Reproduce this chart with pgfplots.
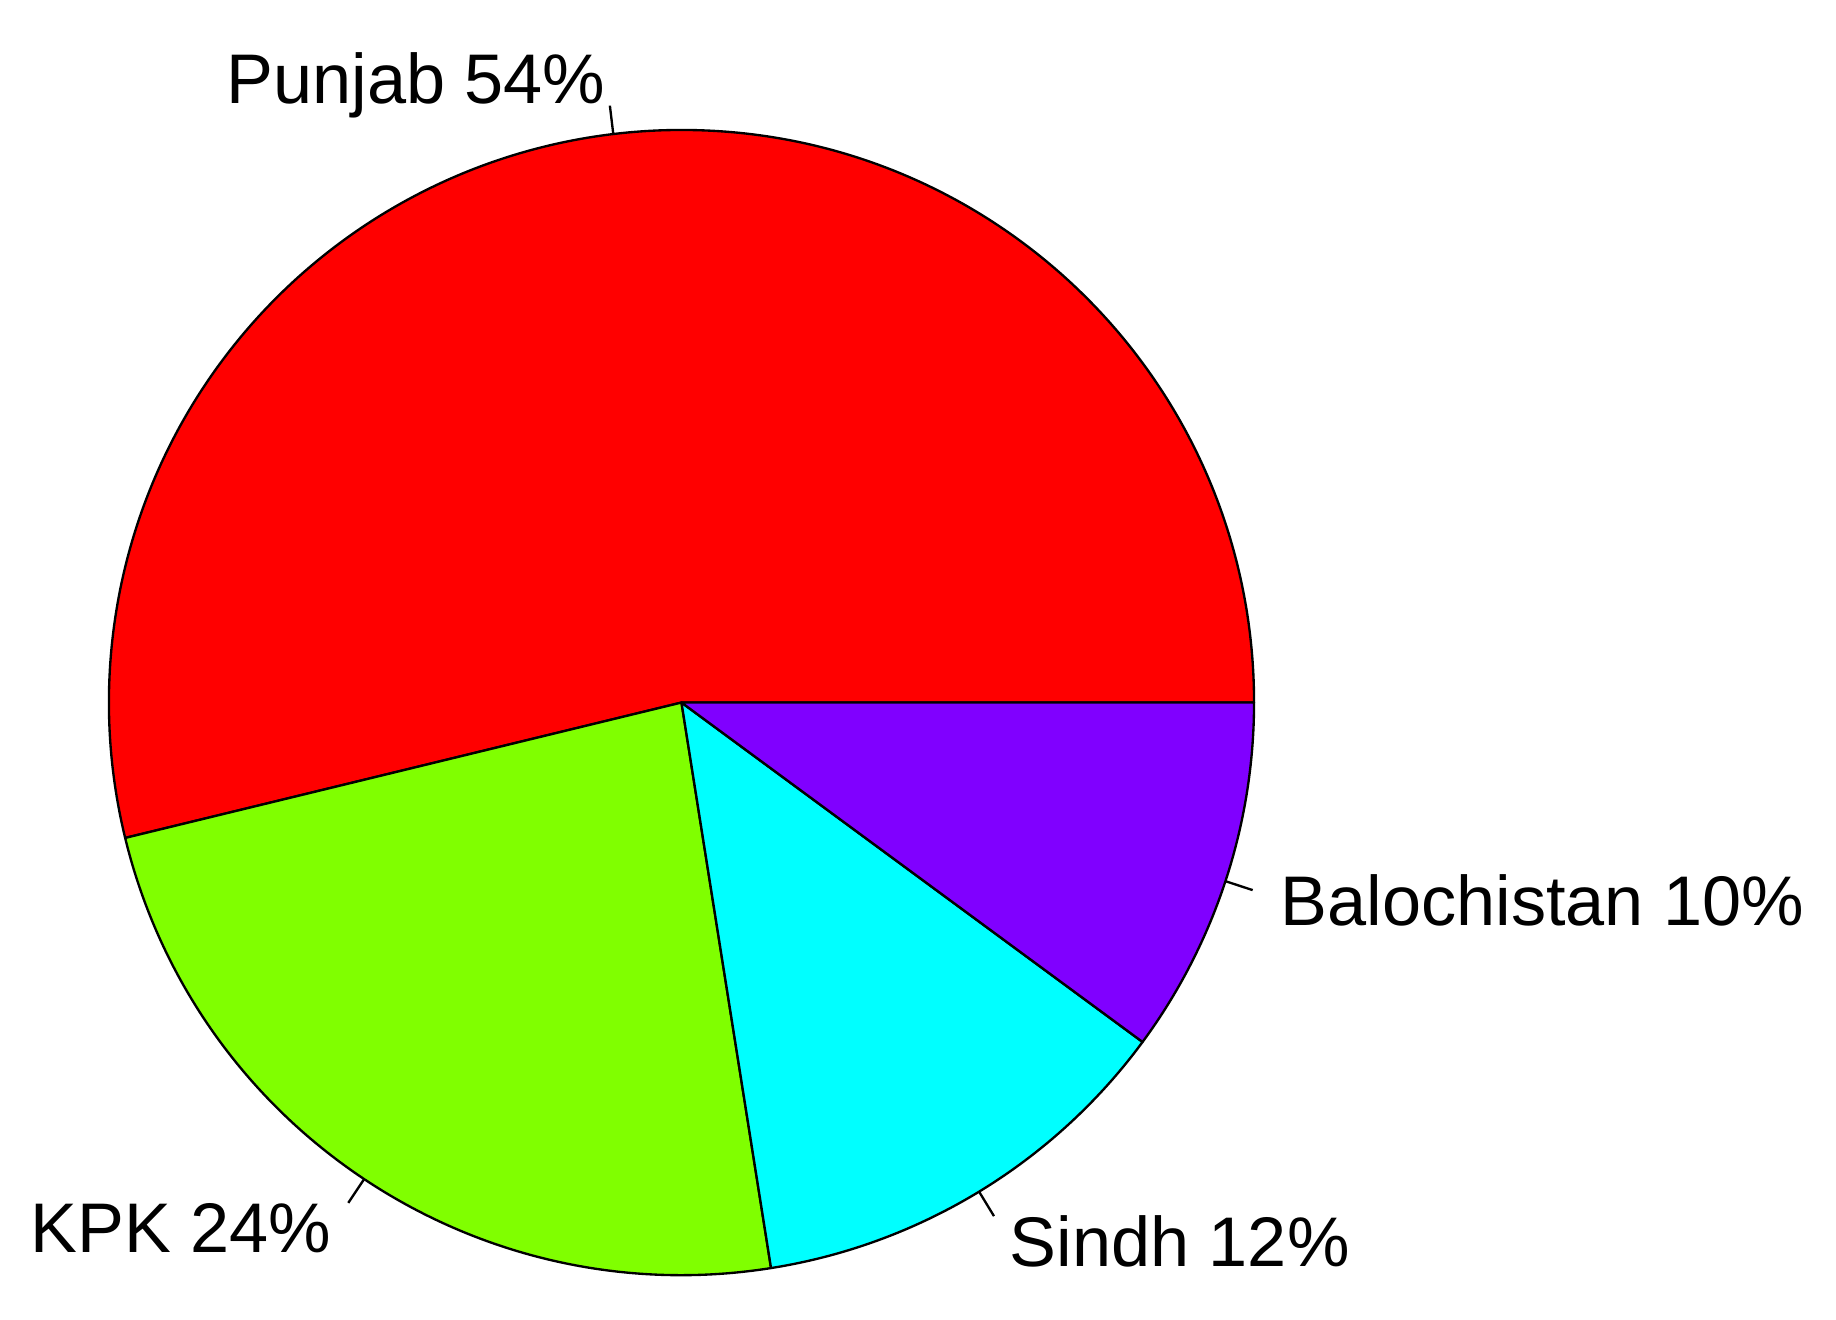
\documentclass[border=0pt]{standalone}
\usepackage{fontspec}
\setmainfont{Liberation Sans}
\usepackage{pgfplots}
\pgfplotsset{compat=1.18}
\definecolor{cPun}{RGB}{255,0,0}
\definecolor{cKpk}{RGB}{128,255,0}
\definecolor{cSin}{RGB}{0,255,255}
\definecolor{cBal}{RGB}{128,0,255}

% wedge: start angle, end angle, colour
\newcommand\sector[3]{%
  \filldraw[fill=#3, draw=black, line width=0.5pt, line join=round]
    (axis cs:0,0) -- (axis cs:{\R*cos(#1)},{\R*sin(#1)})
    arc[start angle=#1, end angle=#2, radius=0.25pt*\R] -- cycle;}
% label: mid angle, anchor, text
\newcommand\plabel[3]{%
  \draw[line width=0.5pt] (axis cs:{\R*cos(#1)},{\R*sin(#1)}) -- (axis cs:{1.05*\R*cos(#1)},{1.05*\R*sin(#1)});
  \node[anchor=#2, inner sep=0pt, yshift=-2pt, font=\fontsize{15}{18}\selectfont]
    at (axis cs:{1.1*\R*cos(#1)},{1.1*\R*sin(#1)}) {\strut #3};}

\begin{document}
\begin{tikzpicture}
% shares in percent (drawn counter-clockwise from 3 o'clock)
\def\sPun{53.8}\def\sKpk{23.7}\def\sSin{12.4}\def\sBal{10.1}
\def\R{489}
\pgfmathsetmacro\aA{0}
\pgfmathsetmacro\aB{3.6*\sPun}
\pgfmathsetmacro\aC{\aB+3.6*\sKpk}
\pgfmathsetmacro\aD{\aC+3.6*\sSin}
\pgfmathsetmacro\aE{360}
\pgfmathsetmacro\mA{(\aA+\aB)/2}
\pgfmathsetmacro\mB{(\aB+\aC)/2}
\pgfmathsetmacro\mC{(\aC+\aD)/2}
\pgfmathsetmacro\mD{(\aD+\aE)/2}
\begin{axis}[x=0.25pt, y=0.25pt, hide axis, clip=false,
  xmin=-582, xmax=986, ymin=-527, ymax=600]
\path (rel axis cs:0,0) (rel axis cs:1,1);
\sector{\aA}{\aB}{cPun}
\sector{\aB}{\aC}{cKpk}
\sector{\aC}{\aD}{cSin}
\sector{\aD}{\aE}{cBal}
\plabel{\mA}{east}{Punjab 54\%}
\plabel{\mB}{east}{KPK 24\%}
\plabel{\mC}{west}{Sindh 12\%}
\plabel{\mD}{west}{Balochistan 10\%}
\end{axis}
\end{tikzpicture}
\end{document}
